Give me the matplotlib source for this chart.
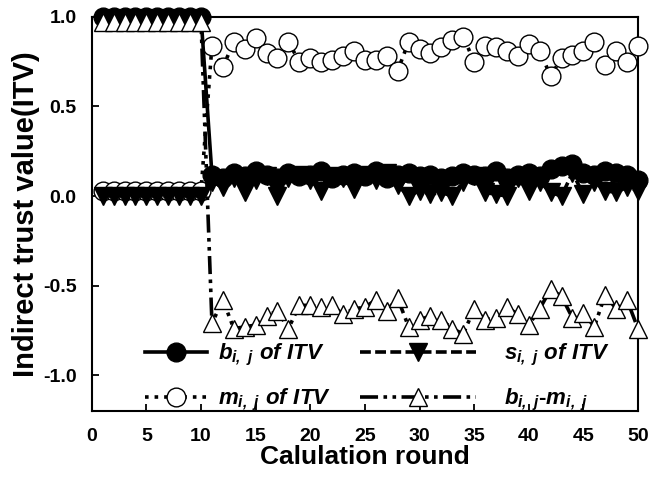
import matplotlib
matplotlib.use("Agg")
import matplotlib.pyplot as plt
import numpy as np

plt.rcParams["font.family"] = ["Liberation Sans", "DejaVu Sans"]
plt.rcParams["font.weight"] = "bold"
plt.rcParams["axes.unicode_minus"] = False
plt.rcParams["mathtext.fontset"] = "custom"
plt.rcParams["mathtext.it"] = "Liberation Sans:italic:bold"
plt.rcParams["mathtext.rm"] = "Liberation Sans:italic:bold"

# -----------------------------
# DATA
# -----------------------------
rounds = np.arange(1, 51)

b_itv = [1.0] * 10 + [
    0.12, 0.10, 0.13, 0.11, 0.14, 0.12, 0.10, 0.13, 0.11, 0.12,
    0.14, 0.10, 0.12, 0.13, 0.11, 0.14, 0.10, 0.12, 0.13, 0.11,
    0.12, 0.10, 0.11, 0.13, 0.12, 0.11, 0.14, 0.10, 0.12, 0.13,
    0.11, 0.15, 0.17, 0.18, 0.13, 0.12, 0.14, 0.13, 0.12, 0.09]

s_itv = [0.0] * 10 + [
    0.08, 0.05, 0.10, 0.02, 0.09, 0.11, 0.00, 0.10, 0.12, 0.09,
    0.03, 0.11, 0.10, 0.04, 0.12, 0.09, 0.13, 0.06, 0.00, 0.03,
    0.01, 0.02, 0.00, 0.08, 0.11, 0.02, 0.01, 0.00, 0.10, 0.03,
    0.08, 0.02, 0.00, 0.13, 0.01, 0.08, 0.03, 0.02, 0.05, 0.03]

m_itv = [0.03] * 10 + [
    0.84, 0.72, 0.86, 0.82, 0.88, 0.80, 0.77, 0.86, 0.75, 0.77,
    0.75, 0.76, 0.78, 0.81, 0.76, 0.76, 0.78, 0.70, 0.86, 0.82,
    0.80, 0.83, 0.87, 0.89, 0.75, 0.84, 0.83, 0.81, 0.78, 0.85,
    0.81, 0.67, 0.77, 0.79, 0.81, 0.86, 0.73, 0.81, 0.75, 0.84]

bm_diff = [0.97] * 10 + [
    -0.71, -0.58, -0.74, -0.73, -0.72, -0.67, -0.64, -0.74, -0.61, -0.61,
    -0.62, -0.61, -0.66, -0.63, -0.62, -0.58, -0.64, -0.57, -0.73, -0.69,
    -0.67, -0.69, -0.74, -0.77, -0.63, -0.69, -0.68, -0.62, -0.66, -0.72,
    -0.63, -0.52, -0.56, -0.68, -0.65, -0.73, -0.55, -0.63, -0.58, -0.74]

# -----------------------------
# PLOTTING
# -----------------------------
fig = plt.figure(figsize=(6.51, 4.83), dpi=100)
ax = fig.add_axes([0.141, 0.149, 0.839, 0.816])

ms = 13.5
lw = 2.6
l_m, = ax.plot(rounds, m_itv, linestyle=":", color="black", linewidth=lw,
               marker="o", markersize=ms, markerfacecolor="white",
               markeredgecolor="black", markeredgewidth=1.0, clip_on=False,
               zorder=3)
l_b, = ax.plot(rounds, b_itv, linestyle="-", color="black", linewidth=lw,
               marker="o", markersize=ms, markerfacecolor="black",
               markeredgecolor="black", clip_on=False, zorder=4)
l_s, = ax.plot(rounds, s_itv, linestyle=(0, (3, 1.2)), color="black",
               linewidth=lw, marker="v", markersize=ms,
               markerfacecolor="black", markeredgecolor="black",
               clip_on=False, zorder=5)
l_bm, = ax.plot(rounds, bm_diff, linestyle=(0, (5, 1.5, 1, 1.5, 1, 1.5)),
                color="black", linewidth=lw, marker="^", markersize=ms,
                markerfacecolor="white", markeredgecolor="black",
                markeredgewidth=1.0, clip_on=False, zorder=6)

ax.set_xlim(0, 50)
ax.set_ylim(-1.2, 1.0)
ax.set_xticks(np.arange(0, 51, 5))
ax.set_yticks([-1.0, -0.5, 0.0, 0.5, 1.0])
ax.tick_params(direction="in", length=5, width=1.3, labelsize=14)
ax.tick_params(axis="x", pad=12)
ax.tick_params(axis="y", pad=11)
for lab in ax.get_xticklabels() + ax.get_yticklabels():
    lab.set_fontweight("bold")
for sp in ax.spines.values():
    sp.set_linewidth(1.5)

ax.set_xlabel("Calulation round", fontsize=19, fontweight="bold", labelpad=0)
ax.set_ylabel("Indirect trust value(ITV)", fontsize=21, fontweight="bold",
              labelpad=2)

leg1 = ax.legend([l_b, l_m],
                 [r"$b_{i,\ j}\ \mathrm{of\ ITV}$",
                  r"$m_{i,\ j}\ \mathrm{of\ ITV}$"],
                 loc="center left", bbox_to_anchor=(0.097, 0.084),
                 borderpad=0, borderaxespad=0, frameon=False, fontsize=16,
                 handlelength=2.8, handletextpad=0.5, labelspacing=0.85)
ax.add_artist(leg1)
ax.legend([l_s, l_bm],
          [r"$s_{i,\ j}\ \mathrm{of\ ITV}$",
           r"$b_{i,\ j}$-$m_{i,\ j}$"],
          loc="center left", bbox_to_anchor=(0.491, 0.084),
          borderpad=0, borderaxespad=0, frameon=False, fontsize=16,
          handlelength=5.2, handletextpad=1.3, labelspacing=0.85)

fig.savefig("out.png", dpi=100)
